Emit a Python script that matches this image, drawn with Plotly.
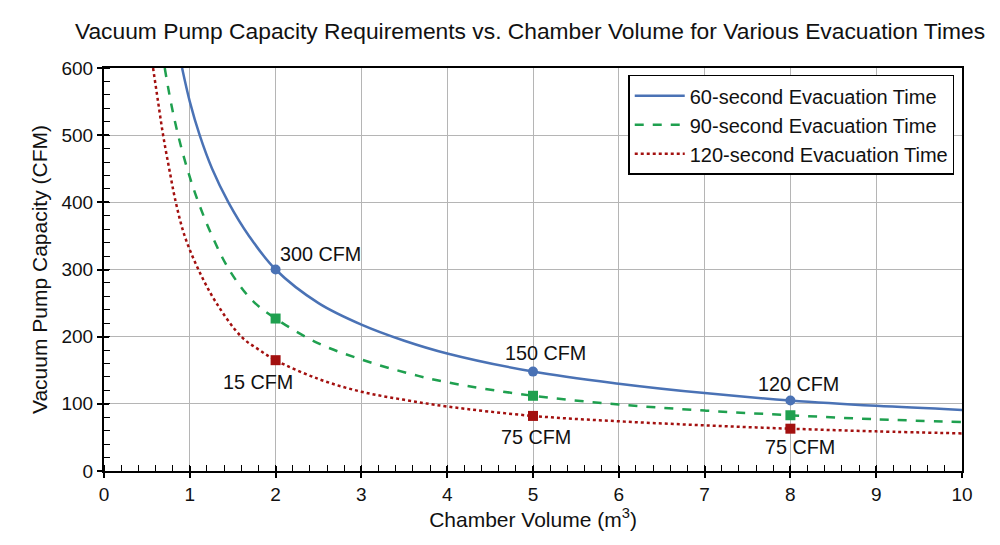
import plotly.graph_objects as go

# Curve data
x60 = [0.91, 1.0, 1.115, 1.26, 1.45, 1.69, 2, 2.5, 3, 3.5, 4, 5, 6, 7, 8, 9, 10]
y60 = [600, 550, 500, 450, 400, 350, 300, 250, 218, 194, 175, 148, 130, 116, 105, 97, 91]

x90 = [0.708, 0.778, 0.864, 0.97, 1.10, 1.26, 1.457, 1.72, 2, 2.5, 3, 3.5, 4, 5, 6, 7, 8, 9, 10]
y90 = [600, 550, 500, 450, 400, 350, 300, 255, 227, 190, 166, 147, 132, 112, 99, 90, 83, 77, 73]

x120 = [0.572, 0.63, 0.689, 0.76, 0.837, 0.94, 1.1, 1.31, 1.6, 1.8, 2, 2.5, 3, 3.5, 4, 5, 6, 7, 8, 9, 10]
y120 = [600, 550, 500, 450, 400, 350, 300, 250, 200, 181, 165, 137, 118, 106, 96, 82, 74, 68, 63, 59, 56]

# Highlighted points
mx = [2, 5, 8]
m60 = [300, 148, 105]
m90 = [227, 112, 83]
m120 = [165, 82, 63]

# Labels
lab_text = ["300 CFM", "15 CFM", "150 CFM", "75 CFM", "120 CFM", "75 CFM"]
lab_x = [2.52, 1.79, 5.14, 5.03, 8.09, 8.11]
lab_y = [323, 133, 176, 50, 130, 36]

blue = "#4a72b5"
green = "#1fa04f"
red = "#a3100f"

fig = go.Figure()
fig.add_trace(go.Scatter(x=x60, y=y60, mode="lines", line=dict(color=blue, width=2.5, shape="spline"),
                         name="60-second Evacuation Time"))
fig.add_trace(go.Scatter(x=x90, y=y90, mode="lines", line=dict(color=green, width=2.5, dash="dash", shape="spline"),
                         name="90-second Evacuation Time"))
fig.add_trace(go.Scatter(x=x120, y=y120, mode="lines", line=dict(color=red, width=2.5, dash="dot", shape="spline"),
                         name="120-second Evacuation Time"))
fig.add_trace(go.Scatter(x=mx, y=m60, mode="markers", marker=dict(color=blue, size=10, symbol="circle"), showlegend=False))
fig.add_trace(go.Scatter(x=mx, y=m90, mode="markers", marker=dict(color=green, size=10, symbol="square"), showlegend=False))
fig.add_trace(go.Scatter(x=mx, y=m120, mode="markers", marker=dict(color=red, size=10, symbol="square"), showlegend=False))
# invisible trace on overlay axes (for inner part of major ticks)
fig.add_trace(go.Scatter(x=[None], y=[None], xaxis="x2", yaxis="y2", showlegend=False, hoverinfo="skip"))

for t, x, y in zip(lab_text, lab_x, lab_y):
    fig.add_annotation(x=x, y=y, text=t, showarrow=False, font=dict(size=19.8, color="#111"))

fig.update_layout(
    width=1000, height=545,
    margin=dict(l=104, r=38, t=68, b=74),
    paper_bgcolor="white", plot_bgcolor="white",
    font=dict(family="Liberation Sans, Arial, sans-serif", color="#111", size=19),
    title=dict(text="Vacuum Pump Capacity Requirements vs. Chamber Volume for Various Evacuation Times",
               x=0.53, xanchor="center", y=0.943, yanchor="middle", font=dict(size=22.8, color="#111")),
    legend=dict(x=0.611, y=0.983, xanchor="left", yanchor="top", bordercolor="black", borderwidth=1.5,
                bgcolor="white", font=dict(size=20), tracegroupgap=0, itemwidth=50),
    showlegend=True,
    xaxis2=dict(overlaying="x", range=[0, 10], dtick=1, ticks="inside", ticklen=5, tickcolor="black",
                tickwidth=1.5, showticklabels=False, showgrid=False, zeroline=False, showline=False, side="bottom"),
    yaxis2=dict(overlaying="y", range=[0, 600], dtick=100, ticks="inside", ticklen=5, tickcolor="black",
                tickwidth=1.5, showticklabels=False, showgrid=False, zeroline=False, showline=False, side="left"),
)
fig.layout.xaxis.update(range=[0, 10], dtick=1, showgrid=True, gridcolor="#b5b5b5", gridwidth=1,
                 showline=True, linecolor="black", linewidth=2, mirror=True,
                 ticks="outside", ticklen=5, tickcolor="black", tickwidth=1.5,
                 minor=dict(dtick=0.2, ticks="inside", ticklen=6, tickcolor="black", tickwidth=1, showgrid=False),
                 title=dict(text="Chamber Volume (m<sup>3</sup>)", font=dict(size=21), standoff=8),
                 tickfont=dict(size=19), zeroline=False)
fig.layout.yaxis.update(range=[0, 600], dtick=100, showgrid=True, gridcolor="#b5b5b5", gridwidth=1,
                 showline=True, linecolor="black", linewidth=2, mirror=True,
                 ticks="outside", ticklen=5, tickcolor="black", tickwidth=1.5,
                 minor=dict(dtick=20, ticks="inside", ticklen=6, tickcolor="black", tickwidth=1, showgrid=False),
                 title=dict(text="Vacuum Pump Capacity (CFM)", font=dict(size=21), standoff=8),
                 tickfont=dict(size=19), zeroline=False)

fig.write_html("out.html")
